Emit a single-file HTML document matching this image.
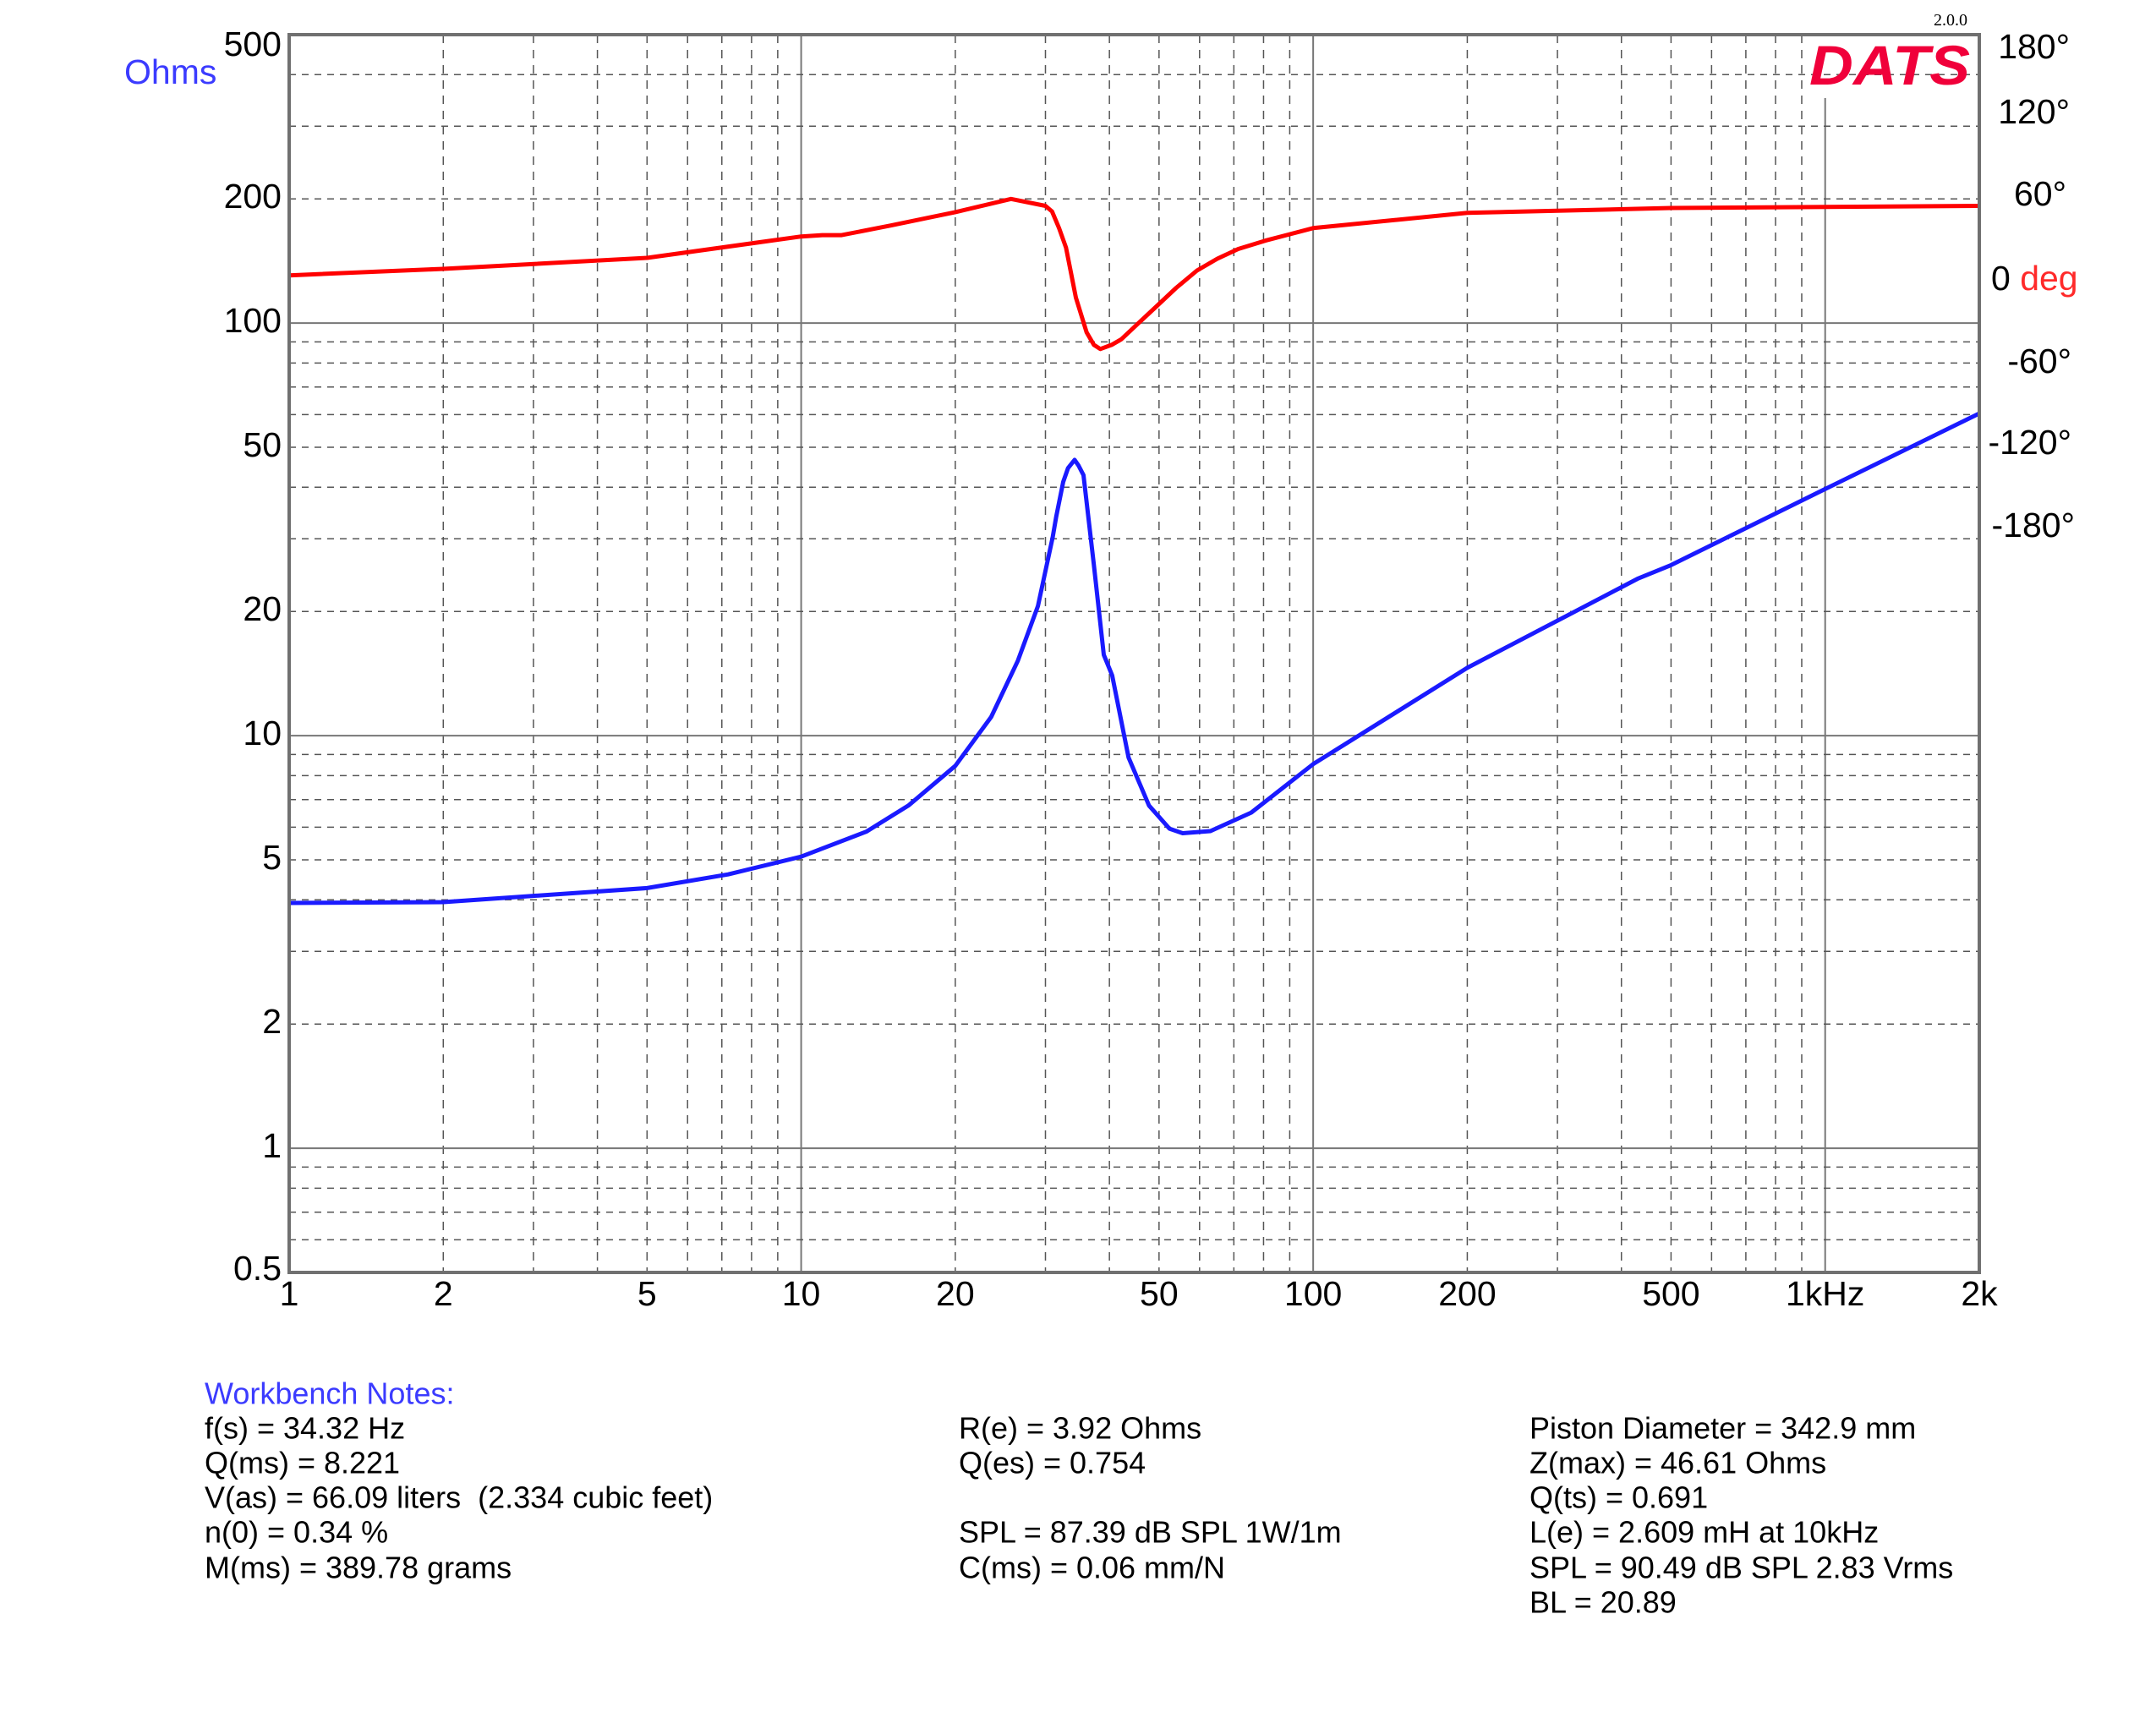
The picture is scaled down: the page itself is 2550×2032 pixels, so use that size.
<!DOCTYPE html>
<html><head><meta charset="utf-8"><style>
html,body{margin:0;padding:0;background:#fff;}
svg{display:block;font-family:"Liberation Sans",Arial,sans-serif;}
</style></head><body>
<svg id="chart" width="2550" height="2032" viewBox="0 0 2550 2032" xmlns="http://www.w3.org/2000/svg">
<g id="grid"></g>
<g id="series"></g>
<g id="labels"></g>
<rect x="342" y="41" width="1999" height="1464" fill="none" stroke="#707070" stroke-width="4"/>
<text x="147" y="85" font-size="41" fill="#3b3bff" dominant-baseline="central">Ohms</text>
<text x="2327" y="24" font-size="20" text-anchor="end" font-family="Liberation Serif,serif" dominant-baseline="central">2.0.0</text>
<text x="2330" y="100" font-size="66" font-weight="bold" font-style="italic" fill="#f0003a" text-anchor="end" textLength="190" lengthAdjust="spacingAndGlyphs">DATS</text>
<g font-size="41">
<text x="2448" y="55" text-anchor="end" dominant-baseline="central">180°</text>
<text x="2448" y="132" text-anchor="end" dominant-baseline="central">120°</text>
<text x="2444" y="229" text-anchor="end" dominant-baseline="central">60°</text>
<text x="2355" y="329" dominant-baseline="central">0 <tspan fill="#ff2a2a">deg</tspan></text>
<text x="2450" y="427" text-anchor="end" dominant-baseline="central">-60°</text>
<text x="2450" y="523" text-anchor="end" dominant-baseline="central">-120°</text>
<text x="2454" y="621" text-anchor="end" dominant-baseline="central">-180°</text>
</g>
<g font-size="36">
<text x="242" y="1648" fill="#3b3bff" dominant-baseline="central">Workbench Notes:</text>
<text x="242" y="1689" dominant-baseline="central">f(s) = 34.32 Hz</text>
<text x="242" y="1730" dominant-baseline="central">Q(ms) = 8.221</text>
<text x="242" y="1771" dominant-baseline="central" xml:space="preserve">V(as) = 66.09 liters  (2.334 cubic feet)</text>
<text x="242" y="1812" dominant-baseline="central">n(0) = 0.34 %</text>
<text x="242" y="1854" dominant-baseline="central">M(ms) = 389.78 grams</text>
<text x="1134" y="1689" dominant-baseline="central">R(e) = 3.92 Ohms</text>
<text x="1134" y="1730" dominant-baseline="central">Q(es) = 0.754</text>
<text x="1134" y="1812" dominant-baseline="central">SPL = 87.39 dB SPL 1W/1m</text>
<text x="1134" y="1854" dominant-baseline="central">C(ms) = 0.06 mm/N</text>
<text x="1809" y="1689" dominant-baseline="central">Piston Diameter = 342.9 mm</text>
<text x="1809" y="1730" dominant-baseline="central">Z(max) = 46.61 Ohms</text>
<text x="1809" y="1771" dominant-baseline="central">Q(ts) = 0.691</text>
<text x="1809" y="1812" dominant-baseline="central">L(e) = 2.609 mH at 10kHz</text>
<text x="1809" y="1854" dominant-baseline="central">SPL = 90.49 dB SPL 2.83 Vrms</text>
<text x="1809" y="1895" dominant-baseline="central">BL = 20.89</text>
</g>
</svg>
<script>
const freqImp = [1,2,5,7.2,10,13.4,16.2,20,23.5,26.5,29,31,31.5,32.5,33.2,34.2,34.8,35.6,37.3,39,40.5,43.6,47.8,52.4,55.6,63,75.7,100,200,430,500,1000,2000];
const impOhms = [3.93,3.95,4.27,4.61,5.09,5.85,6.77,8.45,11.1,15.2,20.6,30.3,34,41.2,44.5,46.6,45.2,42.8,25.9,15.7,14.0,8.85,6.77,5.95,5.80,5.87,6.51,8.53,14.6,24.0,25.9,39.6,60.4];
const freqPhase = [1,2,5,10,11,12,15,20,25.7,30,30.9,31.9,32.9,34.4,36.1,37.3,38.4,40.4,42.2,45.7,49.2,54,59.3,65,71.4,80.7,100,200,500,2000];
const phaseDeg = [2,6.7,14.6,30,31,31,38,47.5,57,52,48,36,22,-14,-39,-48,-51,-48,-44,-32,-21,-7,5.5,14,21,27,36,47,50.5,52];
const xTicks = [1,2,5,10,20,50,100,200,500,1000,2000];
const xTickLabels = ["1","2","5","10","20","50","100","200","500","1kHz","2k"];
const yTicks = [500,200,100,50,20,10,5,2,1,0.5];
const yTickLabels = ["500","200","100","50","20","10","5","2","1","0.5"];

const X0=342,X1=2341,Y0=41,Y1=1505;
const xs=f=>X0+(X1-X0)*Math.log10(f)/Math.log10(2000);
const ys=z=>Y0+(Y1-Y0)*(Math.log10(500)-Math.log10(z))/3;
const ph=p=>329-p*98.6/60;
const NS="http://www.w3.org/2000/svg";
function mk(tag,parent,attrs){const e=document.createElementNS(NS,tag);for(const k in attrs)e.setAttribute(k,attrs[k]);parent.appendChild(e);return e;}
const grid=document.getElementById('grid');
for(let d=1;d<=1000;d*=10){for(let m=1;m<10;m++){const f=d*m;if(f<=1||f>=2000)continue;
 const major=(m===1);const x=xs(f);
 const l=mk('line',grid,{x1:x,x2:x,y1:(f===1000?116:Y0),y2:Y1,stroke:major?'#777':'#555','stroke-width':major?2:1.5});
 
 
 if(!major)l.setAttribute('stroke-dasharray','10 8');}}
for(let d=0.1;d<=100;d*=10){for(let m=1;m<10;m++){const z=+(d*m).toPrecision(3);if(z<=0.5||z>=500)continue;
 const major=(m===1);const y=ys(z);
 const l=mk('line',grid,{x1:X0,x2:X1,y1:y,y2:y,stroke:major?'#777':'#555','stroke-width':major?2:1.5});
 
 
 if(!major)l.setAttribute('stroke-dasharray','8 7');}}
const series=document.getElementById('series');
const pp=freqPhase.map((f,i)=>xs(f).toFixed(1)+','+ph(phaseDeg[i]).toFixed(1)).join(' ');
const pl=mk('polyline',series,{points:pp,fill:'none',stroke:'#ff0000','stroke-width':5,'stroke-linejoin':'round'});


const ip=freqImp.map((f,i)=>xs(f).toFixed(1)+','+ys(impOhms[i]).toFixed(1)).join(' ');
const il=mk('polyline',series,{points:ip,fill:'none',stroke:'#1a1aff','stroke-width':5,'stroke-linejoin':'round'});


const labels=document.getElementById('labels');
xTicks.forEach((f,i)=>{const t=mk('text',labels,{x:xs(f),y:1530,'font-size':41,'text-anchor':'middle','dominant-baseline':'central'});t.textContent=xTickLabels[i];
 
 });
yTicks.forEach((z,i)=>{let y=ys(z)-3;if(z===500)y=52;if(z===0.5)y=1500;
 const t=mk('text',labels,{x:333,y:y,'font-size':41,'text-anchor':'end','dominant-baseline':'central'});t.textContent=yTickLabels[i];
 
 });
</script>
</body></html>
